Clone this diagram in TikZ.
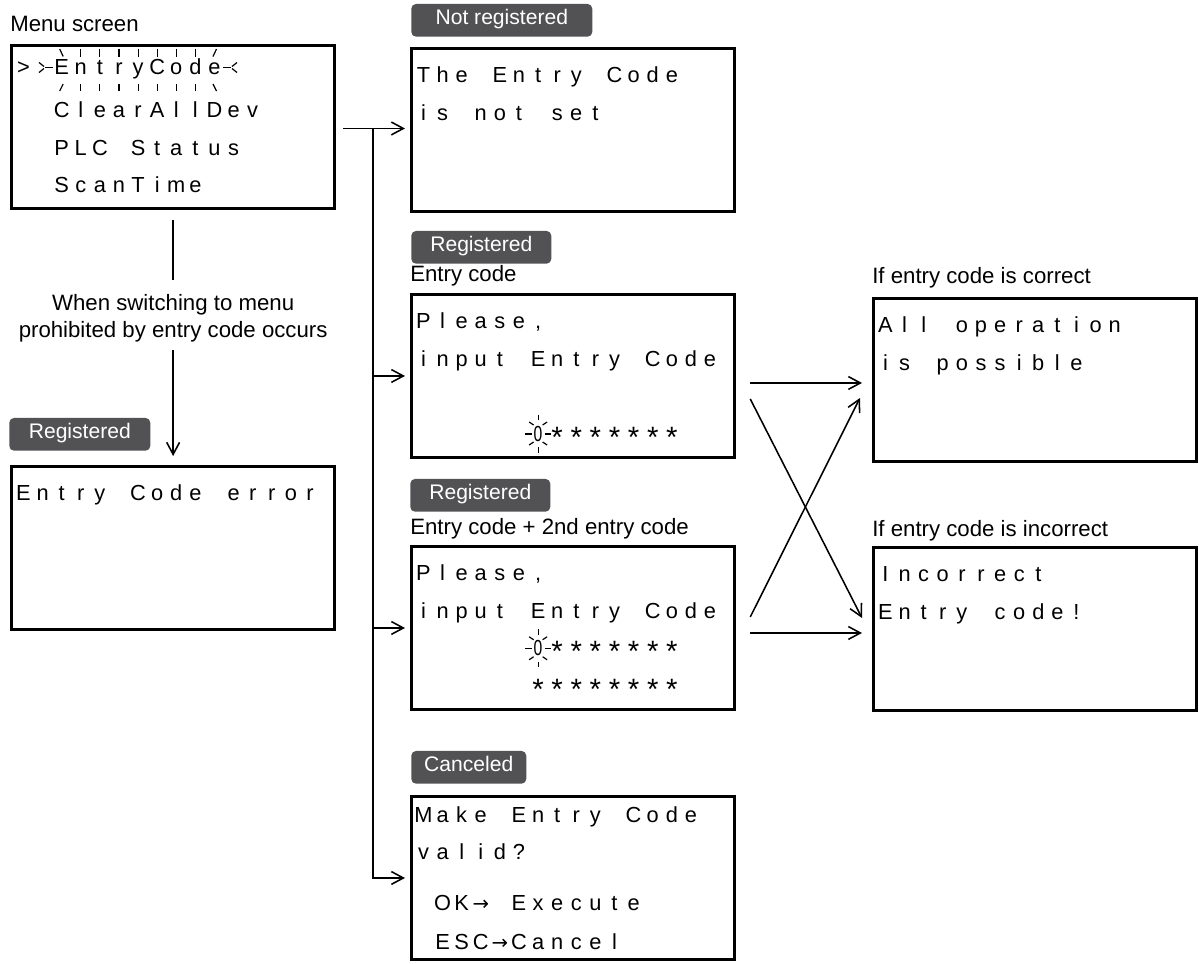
\documentclass[tikz,border=0pt]{standalone}
\usepackage{fontspec}
\setmainfont{Liberation Sans}
\newfontfamily\symfont{DejaVu Sans}
\usepackage{graphicx}
\usepackage{xcolor}
\usetikzlibrary{positioning, arrows.meta, calc}
\definecolor{tagc}{RGB}{82,82,84}

% one character per display cell
\newlength\cellw \setlength\cellw{0.4775cm}
\def\lcdstop{\lcdstop}
\newcommand\lcd[1]{\hspace*{0.056cm}\lcdnext#1\lcdstop}
\def\lcdnext#1{\ifx#1\lcdstop\else\makebox[\cellw]{#1}\expandafter\lcdnext\fi}
\newcommand\lcdstar{\raisebox{-0.284em}{\scalebox{1.35}{*}}}
\newcommand\lcdzero{\scalebox{0.72}[1]{0}}
\newcommand\lcdarrow{{\symfont\fontsize{14}{14}\selectfont →}}
\newcommand\lcdscreen[2][0.85cm]{\parbox[c][4.0625cm][t]{8.07cm}{\fontsize{15.5}{26.68}\selectfont\rule{0pt}{#1}#2}}

\begin{document}
\begin{tikzpicture}[x=0.025cm, y=-0.025cm,
  >={Straight Barb[length=3mm, width=3.2mm]},
  screen/.style={draw, line width=2.4pt, inner sep=0pt, anchor=north west},
  tag/.style={fill=tagc, rounded corners=1.2mm, text=white, font=\fontsize{15}{18}\selectfont,
    minimum height=0.82cm, text height=0.75em, text depth=0.2em, anchor=south west},
  lbl/.style={font=\fontsize{15.8}{19}\selectfont, inner sep=0pt, anchor=base west},
  wire/.style={line width=1.1pt},
  ray/.style={line width=0.85pt},
]
  \useasboundingbox (0,0) rectangle (1199,963);

  % screens
  \node[screen] (menu) at (10,44) {\lcdscreen[0.7125cm]{\lcd{>~EntryCode}\\[0.145cm]\lcd{~~ClearAllDev}\\\lcd{~~PLC~Status}\\\lcd{~~ScanTime}}};
  \node[screen] (nr) at (410,47) {\lcdscreen{\lcd{The~Entry~Code}\\\lcd{is~not~set}}};
  \node[screen] (ec1) at (410,293) {\lcdscreen{\lcd{Please,}\\\lcd{input~Entry~Code}\\\mbox{}\\\lcd{~~~~~~\lcdzero\lcdstar\lcdstar\lcdstar\lcdstar\lcdstar\lcdstar\lcdstar}}};
  \node[screen] (ec2) at (410,545) {\lcdscreen{\lcd{Please,}\\\lcd{input~Entry~Code}\\\lcd{~~~~~~\lcdzero\lcdstar\lcdstar\lcdstar\lcdstar\lcdstar\lcdstar\lcdstar}\\\lcd{~~~~~~\lcdstar\lcdstar\lcdstar\lcdstar\lcdstar\lcdstar\lcdstar\lcdstar}}};
  \node[screen] (cancel) at (410,795) {\lcdscreen[0.644cm]{\lcd{Make~Entry~Code}\\\lcd{valid?}\\[0.3125cm]\lcd{~OK\lcdarrow~Execute}\\[0.06cm]\lcd{~ESC\lcdarrow Cancel}}};
  \node[screen] (ok) at (872,297) {\lcdscreen{\lcd{All~operation}\\\lcd{is~possible}}};
  \node[screen] (ng) at (872,546) {\lcdscreen{\lcd{Incorrect}\\\lcd{Entry~code!}}};
  \node[screen] (err) at (10,465) {\lcdscreen{\lcd{Entry~Code~error}}};

  % tags and captions
  \node[tag, minimum width=4.525cm] (tagNr) at ($(nr.north west)+(1,-10)$) {Not registered};
  \node[tag, minimum width=3.5cm] (tagEc1) at ($(ec1.north west)+(1,-29)$) {Registered};
  \node[tag, minimum width=3.5cm] (tagEc2) at ($(ec2.north west)+(0,-33)$) {Registered};
  \node[tag, minimum width=2.875cm] (tagCancel) at ($(cancel.north west)+(1,-11)$) {Canceled};
  \node[tag, minimum width=3.525cm] (tagErr) at ($(err.north west)+(-1,-14)$) {Registered};
  \node[lbl] (capMenu) at ($(menu.north west)+(0,-13)$) {Menu screen};
  \node[lbl] (capEc1) at ($(ec1.north west)+(0,-12)$) {Entry code};
  \node[lbl] (capEc2) at ($(ec2.north west)+(0,-11)$) {Entry code + 2nd entry code};
  \node[lbl] (capOk) at ($(ok.north west)+(0,-14)$) {If entry code is correct};
  \node[lbl] (capNg) at ($(ng.north west)+(0,-10)$) {If entry code is incorrect};
  \node[font=\fontsize{15.8}{19.2}\selectfont, align=center] (note) at ($(menu.south)+(0,108)$)
    {When switching to menu\\prohibited by entry code occurs};

  % connectors
  \draw[wire, shorten <=0.25cm, shorten >=0.24cm] (menu) -- (note);
  \draw[wire, ->, shorten <=0.09cm, shorten >=0.225cm] (note) -- (err);
  \coordinate (fork) at ($(menu.east)!0.5!(nr.west)$);
  \draw[wire, ->, shorten <=0.175cm, shorten >=0.125cm] (menu.east |- fork) -- (nr.west |- fork);
  \foreach \b in {ec1, ec2, cancel}
    \draw[wire, ->, shorten >=0.125cm] (fork) |- (\b.west);
  \draw[wire, ->] ($(ec1.east)+(14,7)$) -- ($(ok.west)+(-10,3)$);
  \draw[wire, ->] ($(ec1.east)+(14,23)$) -- ($(ng.west)+(-10,-11)$);
  \draw[wire, ->] ($(ec2.east)+(14,-11)$) -- ($(ok.west)+(-12,18)$);
  \draw[wire, ->] ($(ec2.east)+(14,5)$) -- ($(ng.west)+(-10,4)$);

  % blinking marks
  \foreach \k in {3,...,9} {
    \draw[ray] (23.5+19.1*\k,48.5) -- ++(0,8);
    \draw[ray] (23.5+19.1*\k,84) -- ++(0,7);
  }
  \draw[ray] (59.7,49) -- (63.2,56.5);
  \draw[ray] (59.7,91) -- (63.2,84);
  \draw[ray] (216.5,49) -- (213,56.5);
  \draw[ray] (216.5,91) -- (213,84);
  \draw[ray] (45,67.5) -- (53,67.5);
  \draw[ray] (39,62.5) -- (44,66.5);
  \draw[ray] (39,72.5) -- (44,68.5);
  \draw[ray] (223,67.5) -- (231,67.5);
  \draw[ray] (237,62.5) -- (232,66.5);
  \draw[ray] (237,72.5) -- (232,68.5);
  \foreach \zx/\zy in {538.1/433.5, 538.1/648.25} {
    \begin{scope}[shift={(\zx,\zy)}]
      \draw[ray] (0,-19) -- (0,-13.5);
      \draw[ray] (0,13.5) -- (0,19);
      \draw[ray] (-13,0.5) -- (-6.5,0.5);
      \draw[ray] (6.5,0.5) -- (13,0.5);
      \draw[ray] (-9,-11.5) -- (-4.5,-8.5);
      \draw[ray] (9,-11.5) -- (4.5,-8.5);
      \draw[ray] (-9,11.5) -- (-4.5,8.5);
      \draw[ray] (9,11.5) -- (4.5,8.5);
    \end{scope}
  }
\end{tikzpicture}
\end{document}
